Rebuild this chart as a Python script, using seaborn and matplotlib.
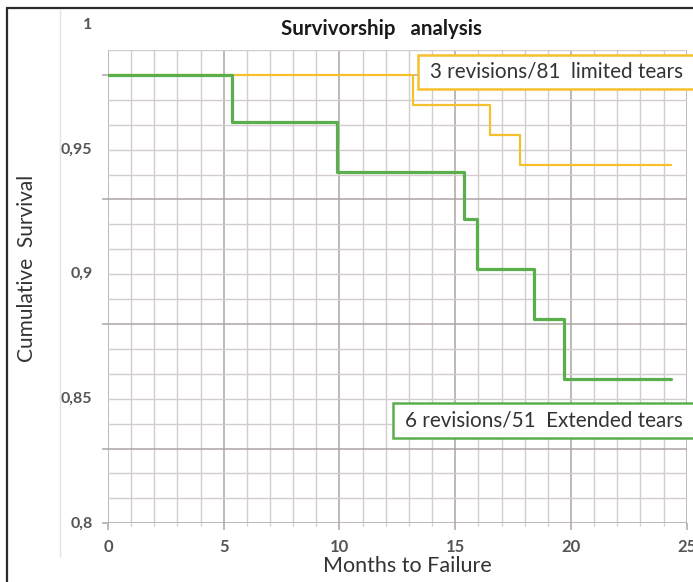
import numpy as np
import pandas as pd
import matplotlib
matplotlib.use("Agg")
import matplotlib.pyplot as plt
from matplotlib.lines import Line2D
from matplotlib.patches import Rectangle
import seaborn as sns

# Kaplan-Meier style step data (months, cumulative survival)
months_limited = [0, 13.16, 16.52, 17.82, 24.31]
survival_limited = [0.980, 0.968, 0.956, 0.944, 0.944]
months_extended = [0, 5.35, 9.89, 15.38, 15.94, 18.39, 19.69, 24.31]
survival_extended = [0.980, 0.961, 0.941, 0.922, 0.902, 0.882, 0.858, 0.858]

label_limited = "3 revisions/81  limited tears"
label_extended = "6 revisions/51  Extended tears"

y_tick_values = [0.8, 0.85, 0.9, 0.95, 1.0]
y_tick_labels = ["0,8", "0,85", "0,9", "0,95", "1"]
x_tick_values = [0, 5, 10, 15, 20, 25]
x_tick_labels = ["0", "5", "10", "15", "20", "25"]

YELLOW = "#f5c02c"
GREEN = "#5aae4c"
TEXT = "#333333"
TICKTEXT = "#555555"

sns.set_theme(style="white")
plt.rcParams["font.family"] = ["Lato", "DejaVu Sans"]

W, H = 693, 582
fig = plt.figure(figsize=(W / 100, H / 100), dpi=100)
ax = fig.add_axes([108 / W, 1 - 523.3 / H, (686.7 - 108) / W, (523.3 - 50) / H])

df_lim = pd.DataFrame({"month": months_limited, "survival": survival_limited})
df_ext = pd.DataFrame({"month": months_extended, "survival": survival_extended})

sns.lineplot(data=df_lim, x="month", y="survival", ax=ax, color=YELLOW,
             linewidth=1.6, drawstyle="steps-post", zorder=3)
sns.lineplot(data=df_ext, x="month", y="survival", ax=ax, color=GREEN,
             linewidth=2.3, drawstyle="steps-post", zorder=4)

ax.set_xlim(0, 25)
ax.set_ylim(0.8, 0.99)

# grid: light lines every month / every 0.01, darker every 5 months / 0.05
ax.set_xticks(x_tick_values)
ax.set_xticks(np.arange(0, 26, 1), minor=True)
ax.set_yticks([0.8, 0.83, 0.88, 0.93, 0.98])
ax.set_yticks(np.round(np.arange(0.8, 0.9901, 0.01), 3), minor=True)
ax.grid(which="minor", color="#d4cccc", linewidth=1.0)
ax.grid(which="major", color="#ada4a4", linewidth=1.1)
ax.set_axisbelow(True)
for s in ax.spines.values():
    s.set_visible(False)

ax.tick_params(axis="x", which="major", direction="out", length=5, width=1.1,
               color="#ada4a4", bottom=True, pad=6, labelsize=12,
               labelcolor=TICKTEXT)
ax.tick_params(axis="x", which="minor", direction="out", length=2, width=1.0,
               color="#d4cccc", bottom=True)
ax.tick_params(axis="y", which="major", direction="out", length=4, width=1.1,
               color="#ada4a4", left=True, labelleft=False)
ax.tick_params(axis="y", which="minor", length=0)
ax.set_xticklabels(x_tick_labels, fontweight="bold")
ax.set_xlabel("")
ax.set_ylabel("")

for v, lab in zip(y_tick_values, y_tick_labels):
    ax.text(-0.027, v, lab, transform=ax.get_yaxis_transform(), ha="right",
            va="center", fontsize=11.5, fontweight="bold", color=TICKTEXT,
            clip_on=False)

# titles
fig.text(381 / W, 1 - 29 / H, "Survivorship   analysis", ha="center",
         va="center", fontsize=14.8, fontweight="bold", color="#1a1a1a")
fig.text(27 / W, 1 - 268 / H, "Cumulative  Survival", rotation=90,
         ha="center", va="center", fontsize=15, color=TEXT)
fig.text(407 / W, 1 - 566 / H, "Months to Failure", ha="center",
         va="center", fontsize=15.5, color=TEXT)

# labelled boxes for the two groups
fig.patches.append(Rectangle((418 / W, 1 - 89 / H), 290 / W, 34 / H,
                             transform=fig.transFigure, facecolor="white",
                             edgecolor=YELLOW, linewidth=1.8, zorder=5))
fig.text(430 / W, 1 - 72 / H, label_limited, ha="left", va="center",
         fontsize=14.9, color=TEXT, zorder=6)
fig.patches.append(Rectangle((393 / W, 1 - 438 / H), 320 / W, 35 / H,
                             transform=fig.transFigure, facecolor="white",
                             edgecolor=GREEN, linewidth=1.8, zorder=5))
fig.text(405 / W, 1 - 420.5 / H, label_extended, ha="left", va="center",
         fontsize=14.9, color=TEXT, zorder=6)

# frame lines
fig.add_artist(Line2D([60 / W, 60 / W], [1 - 557 / H, 1 - 10 / H],
                      transform=fig.transFigure, color="#e4e4e4", lw=1.0))
fig.add_artist(Line2D([6.5 / W, 6.5 / W], [0, 1 - 8 / H],
                      transform=fig.transFigure, color="#2b2b2b", lw=1.6))
fig.add_artist(Line2D([6.5 / W, 1], [1 - 8 / H, 1 - 8 / H],
                      transform=fig.transFigure, color="#2b2b2b", lw=1.6))

fig.savefig("out.png", dpi=100, facecolor="white")
